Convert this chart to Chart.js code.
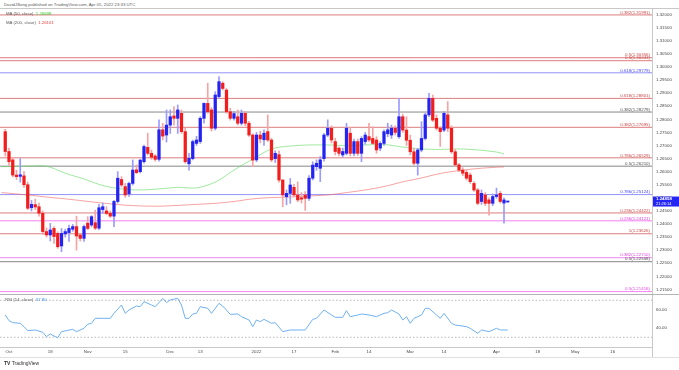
<!DOCTYPE html>
<html>
<head>
<meta charset="utf-8">
<script src="https://cdn.jsdelivr.net/npm/chart.js@4.4.0/dist/chart.umd.min.js"></script>
<style>
body { margin:0; background:#fff; font-family:"Liberation Sans", Arial, sans-serif; }
#wrap { position:relative; width:679px; height:370px; overflow:hidden; background:#fff; }
.txt { position:absolute; font-size:8.6px; color:#5a5a5a; white-space:nowrap; transform:scale(0.5); transform-origin:0 0; }
.ln { position:absolute; background:#c8c8c8; }
canvas { position:absolute; left:0; }
</style>
</head>
<body>
<div id="wrap">
  <div class="txt" style="left:4px;top:2px">DavidJSong published on TradingView.com, Apr 05, 2022 23:33 UTC</div>
  <div class="ln" style="left:0;top:8px;width:679px;height:1px"></div>
  <canvas id="main" width="679" height="285" style="top:9px"></canvas>
  <canvas id="rsi" width="679" height="66" style="top:294px"></canvas>
  <div class="ln" style="left:0;top:294px;width:679px;height:1px;background:#b4b4b4"></div>
  <div class="ln" style="left:652px;top:347px;width:1px;height:10px"></div>
  <div class="ln" style="left:0;top:357px;width:679px;height:1px;background:#e0e0e0"></div>
  <div class="txt" style="left:6px;top:11px">MA (50, close)&nbsp; <span style="color:#2fcf2f">1.26698</span></div>
  <div class="txt" style="left:6px;top:19.5px">MA (200, close)&nbsp; <span style="color:#f23c3c">1.26161</span></div>
  <div class="txt" style="left:5px;top:297px">RSI (14, close)&nbsp; <span style="color:#3a8ee8">37.80</span></div>
  <div class="txt" style="left:4px;top:360px;font-size:10px;color:#333"><b>TV</b> TradingView</div>
</div>
<script>
// first candle is Sep 30 2021 (index -1), Oct 1 = 0, one index per trading day
var firstIdx = -1;
var openP = [1.2753,1.2677,1.2645,1.2587,1.2582,1.2584,1.2550,1.2462,1.2474,1.2466,1.2441,1.2371,1.2358,1.2383,1.2364,1.2316,1.2362,1.2367,1.2380,1.2390,1.2358,1.2345,1.2403,1.2396,1.2405,1.2384,1.2455,1.2450,1.2441,1.2430,1.2486,1.2570,1.2543,1.2515,1.2555,1.2607,1.2600,1.2638,1.2693,1.2670,1.2660,1.2647,1.2760,1.2740,1.2778,1.2813,1.2804,1.2823,1.2753,1.2630,1.2650,1.2708,1.2715,1.2804,1.2861,1.2836,1.2766,1.2887,1.2938,1.2912,1.2829,1.2804,1.2810,1.2785,1.2823,1.2785,1.2740,1.2645,1.2740,1.2722,1.2753,1.2721,1.2650,1.2665,1.2568,1.2504,1.2517,1.2540,1.2511,1.2500,1.2511,1.2498,1.2575,1.2619,1.2613,1.2650,1.2740,1.2766,1.2715,1.2690,1.2664,1.2670,1.2747,1.2670,1.2715,1.2670,1.2715,1.2734,1.2727,1.2721,1.2690,1.2708,1.2745,1.2740,1.2766,1.2734,1.2810,1.2759,1.2720,1.2676,1.2632,1.2683,1.2727,1.2817,1.2880,1.2804,1.2766,1.2759,1.2817,1.2766,1.2676,1.2626,1.2606,1.2597,1.2587,1.2555,1.2530,1.2486,1.2511,1.2492,1.2479,1.2505,1.2517,1.2480,1.2484];
var highP = [1.2762,1.2690,1.2655,1.2605,1.2650,1.2600,1.2560,1.2490,1.2495,1.2480,1.2450,1.2385,1.2402,1.2390,1.2370,1.2383,1.2380,1.2396,1.2398,1.2430,1.2365,1.2396,1.2428,1.2432,1.2453,1.2475,1.2480,1.2466,1.2450,1.2490,1.2600,1.2581,1.2555,1.2560,1.2645,1.2626,1.2647,1.2702,1.2747,1.2683,1.2665,1.2798,1.2785,1.2836,1.2836,1.2849,1.2855,1.2836,1.2766,1.2670,1.2721,1.2735,1.2810,1.2863,1.2938,1.2845,1.2906,1.2963,1.2944,1.2918,1.2842,1.2830,1.2836,1.2836,1.2830,1.2792,1.2745,1.2750,1.2755,1.2760,1.2817,1.2728,1.2680,1.2680,1.2570,1.2530,1.2574,1.2552,1.2561,1.2520,1.2524,1.2585,1.2638,1.2645,1.2658,1.2747,1.2798,1.2775,1.2728,1.2695,1.2690,1.2785,1.2770,1.2725,1.2725,1.2734,1.2750,1.2785,1.2772,1.2734,1.2715,1.2760,1.2785,1.2778,1.2775,1.2880,1.2820,1.2810,1.2740,1.2689,1.2689,1.2791,1.2823,1.2899,1.2893,1.2817,1.2772,1.2829,1.2868,1.2775,1.2685,1.2632,1.2615,1.2605,1.2595,1.2562,1.2536,1.2530,1.2520,1.2500,1.2515,1.2537,1.2525,1.2500,1.2487];
var lowP = [1.2660,1.2625,1.2580,1.2570,1.2560,1.2540,1.2455,1.2450,1.2455,1.2430,1.2360,1.2350,1.2335,1.2326,1.2307,1.2294,1.2350,1.2333,1.2372,1.2300,1.2335,1.2333,1.2378,1.2390,1.2378,1.2378,1.2440,1.2436,1.2425,1.2390,1.2480,1.2542,1.2502,1.2505,1.2549,1.2593,1.2595,1.2632,1.2664,1.2647,1.2640,1.2640,1.2721,1.2713,1.2746,1.2778,1.2746,1.2746,1.2632,1.2606,1.2645,1.2700,1.2708,1.2785,1.2823,1.2755,1.2759,1.2880,1.2912,1.2823,1.2797,1.2797,1.2778,1.2778,1.2775,1.2735,1.2619,1.2638,1.2710,1.2700,1.2715,1.2638,1.2635,1.2560,1.2466,1.2473,1.2479,1.2505,1.2485,1.2480,1.2452,1.2490,1.2568,1.2605,1.2562,1.2640,1.2734,1.2710,1.2664,1.2660,1.2655,1.2664,1.2660,1.2660,1.2662,1.2638,1.2705,1.2715,1.2705,1.2670,1.2680,1.2700,1.2734,1.2727,1.2740,1.2727,1.2750,1.2700,1.2664,1.2626,1.2587,1.2676,1.2721,1.2810,1.2791,1.2759,1.2696,1.2753,1.2753,1.2670,1.2620,1.2600,1.2585,1.2568,1.2555,1.2524,1.2473,1.2475,1.2470,1.2434,1.2470,1.2498,1.2480,1.2403,1.2483];
var closeP = [1.2677,1.2638,1.2587,1.2581,1.2588,1.2550,1.2460,1.2475,1.2465,1.2441,1.2371,1.2358,1.2377,1.2352,1.2313,1.2364,1.2371,1.2383,1.2390,1.2354,1.2345,1.2390,1.2383,1.2428,1.2384,1.2462,1.2466,1.2440,1.2430,1.2486,1.2575,1.2549,1.2511,1.2555,1.2606,1.2596,1.2644,1.2696,1.2670,1.2655,1.2647,1.2760,1.2736,1.2778,1.2810,1.2804,1.2836,1.2753,1.2638,1.2651,1.2715,1.2721,1.2804,1.2861,1.2829,1.2766,1.2893,1.2944,1.2918,1.2829,1.2804,1.2822,1.2785,1.2823,1.2785,1.2740,1.2644,1.2740,1.2725,1.2747,1.2721,1.2645,1.2670,1.2568,1.2511,1.2517,1.2549,1.2511,1.2492,1.2495,1.2498,1.2575,1.2625,1.2632,1.2645,1.2740,1.2766,1.2721,1.2677,1.2670,1.2677,1.2766,1.2670,1.2715,1.2670,1.2727,1.2740,1.2721,1.2708,1.2683,1.2708,1.2753,1.2760,1.2766,1.2750,1.2810,1.2759,1.2720,1.2676,1.2632,1.2683,1.2727,1.2817,1.2880,1.2797,1.2766,1.2753,1.2823,1.2766,1.2676,1.2626,1.2606,1.2594,1.2575,1.2562,1.2530,1.2479,1.2517,1.2479,1.2479,1.2505,1.2511,1.2486,1.2492,1.24858];

// moving averages (candle index, value)
var maIdx = [-2,5,10,15,20,25,30,35,40,45,50,55,60,65,70,75,80,85,90,95,100,105,110,115,120,125,130,132];
var ma50 = [1.2619,1.2621,1.2621,1.2594,1.2572,1.2547,1.2534,1.2530,1.2534,1.2540,1.2538,1.2560,1.2606,1.2648,1.2687,1.2698,1.2702,1.2702,1.2700,1.2702,1.2704,1.2694,1.2687,1.2685,1.2687,1.2683,1.2675,1.2668];
var ma200 = [1.2520,1.2511,1.2503,1.2496,1.2488,1.2480,1.2473,1.2469,1.2468,1.2471,1.2475,1.2479,1.2486,1.2496,1.2501,1.2503,1.2507,1.2511,1.2520,1.2530,1.2543,1.2561,1.2576,1.2593,1.2604,1.2612,1.2617,1.2618];

// RSI(14)
var rsiIdx = [-1,0,1,3,4,5,7,9,10,11,12,13,14,17,18,20,21,22,23,25,27,28,30,31,32,34,35,36,38,39,41,42,43,45,46,47,48,49,50,51,53,54,56,57,59,61,62,64,65,66,67,68,70,71,73,75,77,79,81,82,84,86,87,89,90,91,93,94,96,98,100,101,102,104,105,106,107,108,110,111,112,114,115,116,118,119,122,123,125,126,128,130,131,133];
var rsiVal = [54.1,48.0,45.8,45.1,41.5,37.2,37.9,35.4,30.7,33.6,31.4,29.6,36.1,38.6,36.1,39.7,44.1,45.1,50.5,50.5,50.5,55.9,64.9,55.9,59.5,63.8,63.1,68.5,64.9,63.1,72.1,67.5,70.4,72.1,64.9,50.5,50.5,55.2,55.9,63.1,61.3,55.9,66.7,63.8,54.8,55.2,52.3,48.7,41.5,48.7,46.9,49.4,45.1,45.8,36.1,37.9,37.9,37.9,49.4,50.5,59.5,54.1,51.6,51.6,58.8,52.3,54.1,55.2,54.1,52.3,55.9,56.6,59.5,55.2,48.7,52.3,45.1,50.5,54.1,61.3,61.3,54.1,50.5,55.9,45.1,43.3,41.5,39.7,34.3,37.9,36.1,39.7,37.9,37.8];
var rsiBands = [70, 30];

// fibonacci levels drawn on the chart
var fibLevels = [1.31991,1.30356,1.30241,1.29779,1.28801,1.28279,1.27695,1.26529,1.26210,1.25124,1.24422,1.24121,1.23626,1.22710,1.22558,1.21416];
var fibLabels = ['0.382(1.31991)','0.5(1.30356)','0.5(1.30241)','0.618(1.29779)','0.618(1.28801)','0.382(1.28279)','0.382(1.27695)','0.786(1.26529)','0.5(1.26210)','0.786(1.25124)','0.236(1.24422)','0.236(1.24121)','1(1.23626)','0.382(1.22710)','0.5(1.22558)','0.5(1.21416)'];
var fibSet = [0,0,0,1,0,2,0,0,2,1,0,3,0,3,2,3];

var priceTicks = [1.215,1.22,1.225,1.23,1.235,1.24,1.245,1.25,1.255,1.26,1.265,1.27,1.275,1.28,1.285,1.29,1.295,1.30,1.305,1.31,1.315,1.32];
var rsiTicks = [40, 60];
var timeIdx = [0,11,21,31,43,51,66,76,87,96,107,116,130,141,151,161];
var timeText = ['Oct','18','Nov','15','Dec','13','2022','17','Feb','14','Mar','14','Apr','18','May','16'];
var lastPrice = 1.24858;
var countdown = '21:26:14';

var fibStyle = [
  {line: 'rgba(205,70,70,0.7)', text: '#c84848'},
  {line: 'rgba(90,90,245,0.65)', text: '#4646f0'},
  {line: 'rgba(95,95,95,0.75)', text: '#505050'},
  {line: 'rgba(236,80,236,0.7)', text: '#e040e0'}
];
var xMin = -2.4, xMax = 171.47;
var fontFam = '"Liberation Sans", Arial, sans-serif';

var datasets = [];
var bodies = [], wicks = [];
for (var i = 0; i < closeP.length; i++) {
  bodies.push({x: firstIdx + i, y: [openP[i], closeP[i]]});
  wicks.push({x: firstIdx + i, y: [lowP[i], highP[i]]});
}
function isUp(c) { return closeP[c.dataIndex] >= openP[c.dataIndex]; }
datasets.push({type: 'bar', data: bodies, grouped: false, barThickness: 2.6, minBarLength: 1, order: 1,
  backgroundColor: function(c) { return isUp(c) ? '#2323f2' : '#f21d1d'; }});
datasets.push({type: 'bar', data: wicks, grouped: false, barThickness: 1, order: 2,
  backgroundColor: function(c) { return isUp(c) ? '#9b9bff' : '#f5a3a3'; }});
datasets.push({type: 'line', data: maIdx.map(function(v, k) { return {x: v, y: ma50[k]}; }),
  borderColor: 'rgba(80,215,80,0.55)', borderWidth: 1, pointRadius: 0, tension: 0.3, order: 3});
datasets.push({type: 'line', data: maIdx.map(function(v, k) { return {x: v, y: ma200[k]}; }),
  borderColor: 'rgba(240,100,100,0.6)', borderWidth: 1, pointRadius: 0, tension: 0.3, order: 3});
fibLevels.forEach(function(lv, k) {
  datasets.push({type: 'line', data: [{x: xMin, y: lv}, {x: xMax, y: lv}],
    borderColor: fibStyle[fibSet[k]].line, borderWidth: 1, pointRadius: 0, order: 5});
});

var labelPlugin = {
  id: 'fibText',
  afterDraw: function(chart) {
    var ctx = chart.ctx, area = chart.chartArea, y = chart.scales.y;
    ctx.save();
    ctx.font = '4.4px ' + fontFam;
    ctx.textAlign = 'right';
    ctx.textBaseline = 'bottom';
    fibLevels.forEach(function(lv, k) {
      ctx.fillStyle = fibStyle[fibSet[k]].text;
      ctx.fillText(fibLabels[k], area.right - 2, y.getPixelForValue(lv) - 0.3);
    });
    var py = y.getPixelForValue(lastPrice);
    ctx.fillStyle = '#2424f4';
    ctx.fillRect(area.right + 1, py - 5, 26, 10);
    ctx.fillStyle = '#fff';
    ctx.textAlign = 'left';
    ctx.textBaseline = 'middle';
    ctx.font = 'bold 4.4px ' + fontFam;
    ctx.fillText(lastPrice.toFixed(5), area.right + 4, py - 2.4);
    ctx.font = '4px ' + fontFam;
    ctx.fillText(countdown, area.right + 4, py + 2.2);
    ctx.restore();
  }
};

new Chart(document.getElementById('main'), {
  type: 'bar',
  data: {datasets: datasets},
  options: {
    responsive: false,
    animation: false,
    layout: {padding: 0, autoPadding: false},
    plugins: {legend: {display: false}, tooltip: {enabled: false}},
    scales: {
      x: {type: 'linear', min: xMin, max: xMax, display: false, offset: false},
      y: {
        position: 'right', min: 1.213234, max: 1.322179,
        grid: {display: false, drawTicks: false},
        border: {display: true, color: '#c8c8c8'},
        afterBuildTicks: function(s) { s.ticks = priceTicks.map(function(v) { return {value: v}; }); },
        afterFit: function(s) { s.width = 27; s.paddingTop = 0; s.paddingBottom = 0; },
        ticks: {autoSkip: false, padding: 4, color: '#4a4a4a', font: {size: 4.4, family: fontFam},
          callback: function(v) { return Number(v).toFixed(5); }}
      }
    }
  },
  plugins: [labelPlugin]
});

var rsiSets = [{
  type: 'line', data: rsiIdx.map(function(v, k) { return {x: v, y: rsiVal[k]}; }),
  borderColor: '#6fb1f2', borderWidth: 1, pointRadius: 0, tension: 0
}];
rsiBands.forEach(function(b) {
  rsiSets.push({type: 'line', data: [{x: xMin, y: b}, {x: xMax, y: b}],
    borderColor: '#a8a8a8', borderWidth: 0.8, borderDash: [1.5, 2], pointRadius: 0});
});

new Chart(document.getElementById('rsi'), {
  type: 'line',
  data: {datasets: rsiSets},
  options: {
    responsive: false,
    animation: false,
    layout: {padding: 0, autoPadding: false},
    plugins: {legend: {display: false}, tooltip: {enabled: false}},
    scales: {
      x: {
        type: 'linear', min: xMin, max: xMax,
        grid: {display: false, drawTicks: false},
        border: {display: true, color: '#c8c8c8'},
        afterBuildTicks: function(s) { s.ticks = timeIdx.map(function(v) { return {value: v}; }); },
        afterFit: function(s) { s.height = 13; s.paddingLeft = 0; s.paddingRight = 0; },
        ticks: {autoSkip: false, maxRotation: 0, padding: 2, color: '#4a4a4a', font: {size: 4.4, family: fontFam},
          callback: function(v) { return timeText[timeIdx.indexOf(v)]; }}
      },
      y: {
        position: 'right', min: 19.5, max: 76.8,
        grid: {display: false, drawTicks: false},
        border: {display: true, color: '#c8c8c8'},
        afterBuildTicks: function(s) { s.ticks = rsiTicks.map(function(v) { return {value: v}; }); },
        afterFit: function(s) { s.width = 27; s.paddingTop = 0; s.paddingBottom = 0; },
        ticks: {autoSkip: false, padding: 4, color: '#4a4a4a', font: {size: 4.4, family: fontFam},
          callback: function(v) { return Number(v).toFixed(2); }}
      }
    }
  }
});
</script>
</body>
</html>
